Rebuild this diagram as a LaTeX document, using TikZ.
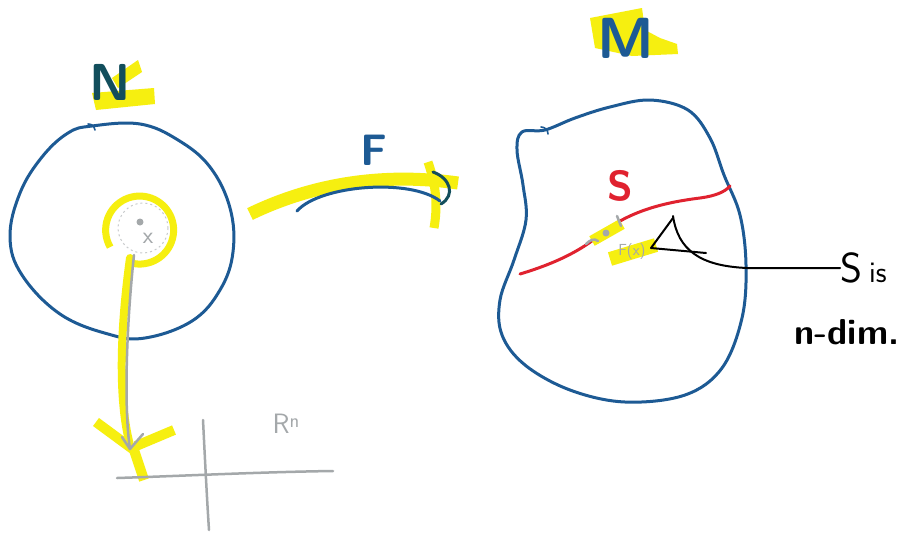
\documentclass[tikz,border=0pt]{standalone}
\usepackage{fontspec}
\setmainfont{Fira Sans}
\usetikzlibrary{calc}
\definecolor{inkblue}{HTML}{1D5A94}
\definecolor{hl}{HTML}{F6EF10}
\definecolor{inkred}{HTML}{E0222F}
\definecolor{inkgrey}{HTML}{A4A8AA}
\definecolor{inkgreen}{HTML}{124E5C}
\tikzset{
  blueline/.style={draw=inkblue, line width=3pt, line cap=round, line join=round},
  yellowhl/.style={draw=hl, line width=11pt, line cap=butt, line join=round},
  greyline/.style={draw=inkgrey, line width=2.5pt, line cap=round},
  redline/.style={draw=inkred, line width=3pt, line cap=round},
  blackline/.style={draw=black, line width=2pt, line cap=round, line join=round},
  handtext/.style={inner sep=0pt, font=\sffamily}
}
\begin{document}
\begin{tikzpicture}[x=1pt,y=-1pt]
\useasboundingbox (0,0) rectangle (904,536);
\fill[white] (0,0) rectangle (904,536);
\clip (0,0) rectangle (904,536);
% ---------- N label
\fill[hl] (92,93) -- (154,88) -- (155,104) -- (96,110) -- cycle;
\fill[hl] (112,78) -- (138,60) -- (142,72) -- (118,88) -- cycle;
\node[handtext, text=inkgreen, font=\sffamily\bfseries\fontsize{52}{52}\selectfont] (Nlab) at (110,82) {N};
% ---------- left blob N
\draw[blueline] plot[smooth cycle, tension=0.65] coordinates {(92,126) (140,124) (178,140) (210,167) (230,208) (233,252) (220,290) (192,321) (145,338) (108,334) (60,314) (22,275) (10,237) (20,193) (42,157) (68,133)};
\draw[blueline, line width=1.6pt] (88,124) .. controls (92,124) and (94,126) .. (95,130);
% point x
\draw[hl, line width=7pt] (128,262) arc[start angle=110, end angle=-210, radius=34];
\fill[white] (143,228) circle (25);
\draw[inkgrey!60, line width=1pt, dash pattern=on 2pt off 3pt] (143,228) circle (25);
\fill[inkgrey] (140,222) circle (3.5);
\node[handtext, text=inkgrey, font=\sffamily\fontsize{24}{24}\selectfont] (xlab) at (148,238) {x};
\coordinate (xpt) at (140,222);
% ---------- chart map
\coordinate (chartstart) at (134,255);
\coordinate (charttip) at (130,449);
\draw[hl, line width=8pt, line cap=round] (130,258) .. controls (120,330) and (118,400) .. (130,445);
\draw[hl, line width=10pt] (96,422) -- (134,450) -- (144,480);
\draw[hl, line width=10pt] (174,430) -- (136,446);
\draw[greyline] (chartstart) .. controls (126,330) and (124,410) .. (charttip);
\draw[greyline, line join=round] (122,437) -- (charttip) -- (143,434);
% axes
\coordinate (axl) at (117,478);
\coordinate (axr) at (333,471);
\coordinate (axt) at (203,420);
\coordinate (axb) at (209,530);
\draw[greyline] (axl) .. controls (180,476) and (260,472) .. (axr);
\draw[greyline] (axt) .. controls (205,460) and (207,500) .. (axb);
\node[handtext, text=inkgrey, font=\sffamily\fontsize{28}{28}\selectfont] (Rn) at (286,424) {R\raisebox{0.5ex}{\fontsize{20}{20}\selectfont n}};
% ---------- F arrow
\coordinate (Fstart) at (297,211);
\coordinate (Fend) at (440,201);
\draw[hl, line width=13pt, line cap=butt] (250,214) .. controls (310,185) and (380,172) .. (458,183);
\draw[hl, line width=9pt] (428,162) .. controls (436,185) and (438,205) .. (434,228);
\draw[blueline] (Fstart) .. controls (320,185) and (410,178) .. (Fend);
\draw[draw=inkgreen, line width=3pt, line cap=round] (433,172) .. controls (450,178) and (456,195) .. (441,204);
\node[handtext, text=inkblue, font=\sffamily\bfseries\fontsize{44}{44}\selectfont] (Flab) at (374,150) {F};
% ---------- M label
\fill[hl] (590,18) -- (642,8) -- (645,30) -- (660,38) -- (677,44) -- (678,54) -- (632,56) -- (595,48) -- cycle;
\node[handtext, text=inkblue, font=\sffamily\bfseries\fontsize{58}{58}\selectfont] (Mlab) at (626,38) {M};
% ---------- right blob M
\draw[blueline] plot[smooth cycle, tension=0.6] coordinates {(545,130) (522,132) (517,150) (523,185) (526,220) (514,260) (500,300) (502,335) (525,365) (570,390) (625,402) (685,395) (722,368) (742,318) (746,265) (740,215) (724,175) (710,138) (688,110) (650,100) (610,107) (575,118)};
\draw[blueline, line width=1.6pt] (541,127) .. controls (545,127) and (548,130) .. (548,134);
% S curve
\coordinate (Sl) at (520,274);
\coordinate (Sr) at (730,186);
\draw[redline] (Sl) .. controls (560,262) and (585,248) .. (603,232) .. controls (630,212) and (660,203) .. (700,198) .. controls (715,196) and (725,192) .. (Sr);
\node[handtext, text=inkred, font=\sffamily\bfseries\fontsize{42}{42}\selectfont] (Slab) at (620,186) {S};
% F(x)
\draw[hl, line width=11pt] (592,241) -- (622,224);
\draw[hl, line width=14pt] (610,259) -- (656,245);
\draw[inkgrey, line width=2.5pt, line cap=round] (586,244) .. controls (590,240) and (594,238) .. (598,241);
\draw[inkgrey, line width=2.5pt, line cap=round] (617,216) -- (621,226);
\fill[inkgrey] (606,233) circle (3.5);
\node[handtext, text=inkgrey, font=\sffamily\fontsize{16}{16}\selectfont] (Fx) at (632,252) {F(x)};
\coordinate (Fxpt) at (651,248);
% annotation arrow
\node[handtext, font=\sffamily\mdseries\fontsize{42}{42}\selectfont, anchor=west] (Sis) at (840,268) {S\,{\fontsize{30}{30}\selectfont is}};
\node[handtext, font=\sffamily\bfseries\fontsize{36}{36}\selectfont, anchor=west] (ndim) at (794,332) {n-dim.};
\draw[blackline] (Sis.west) -- (747,268) .. controls (700,266) and (678,250) .. (673,216);
\draw[blackline] (706,253) -- (Fxpt) -- (673,218);
\end{tikzpicture}
\end{document}
